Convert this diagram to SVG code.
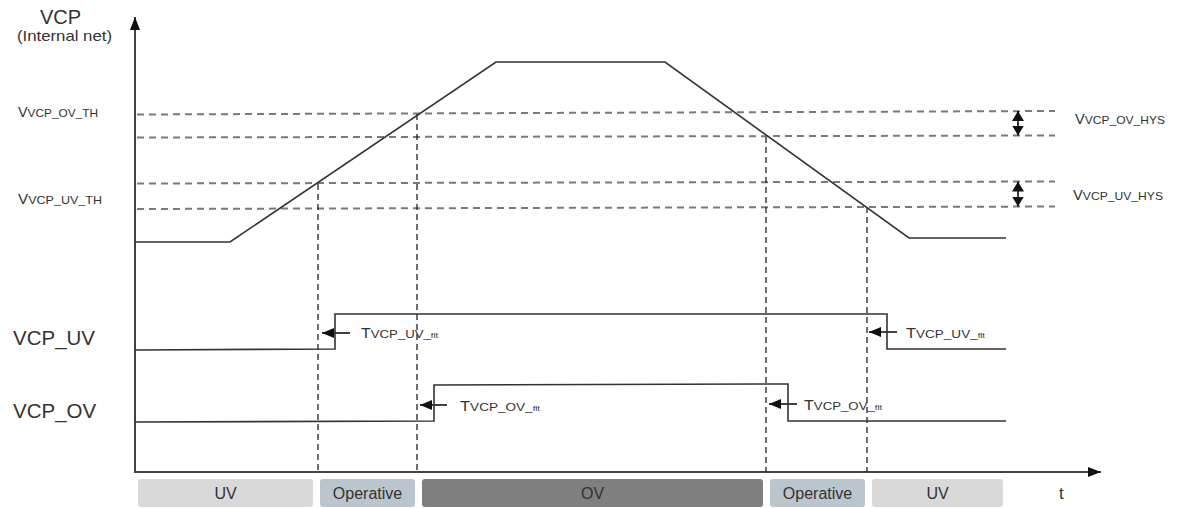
<svg xmlns="http://www.w3.org/2000/svg" width="1189" height="508" viewBox="0 0 1189 508">
<style>
  text { font-family: "Liberation Sans", Arial, sans-serif; fill: #333; }
  .big { font-size: 20.5px; }
  .lbl { font-size: 14px; }
  .sub { font-size: 11.5px; }
  .tiny { font-size: 8px; }
  .bar { font-size: 16px; text-anchor: middle; }
  .hd { stroke: #7a7a7a; stroke-width: 2; stroke-dasharray: 7 5; fill: none; }
  .vd { stroke: #222; stroke-width: 1.3; stroke-dasharray: 6 4; fill: none; }
  .wave { stroke: #333; stroke-width: 1.6; fill: none; }
  .axis { stroke: #444; stroke-width: 2; fill: none; }
  .arr { stroke: #111; stroke-width: 1.6; fill: none; }
</style>
<defs>
  <marker id="ah" viewBox="0 0 12 10" refX="12" refY="5" markerWidth="12" markerHeight="10" markerUnits="userSpaceOnUse" orient="auto">
    <path d="M0,0 L12,5 L0,10 z" fill="#111"/>
  </marker>
  <marker id="ah2" viewBox="0 0 10 12" refX="10" refY="6" markerWidth="10" markerHeight="12" markerUnits="userSpaceOnUse" orient="auto">
    <path d="M0,0 L10,6 L0,12 z" fill="#111"/>
  </marker>
  <marker id="axh" viewBox="0 0 13 10" refX="13" refY="5" markerWidth="13" markerHeight="10" markerUnits="userSpaceOnUse" orient="auto">
    <path d="M0,0 L13,5 L0,10 z" fill="#111"/>
  </marker>
</defs>

<g id="labels-left">
  <text x="40" y="24" font-size="20">VCP</text>
  <text x="17" y="41" font-size="15" textLength="95" lengthAdjust="spacingAndGlyphs">(Internal net)</text>
  <text x="18" y="117" class="lbl" textLength="80" lengthAdjust="spacingAndGlyphs">V<tspan class="sub">VCP_OV_TH</tspan></text>
  <text x="18" y="204" class="lbl" textLength="84" lengthAdjust="spacingAndGlyphs">V<tspan class="sub">VCP_UV_TH</tspan></text>
  <text x="13" y="345" class="big">VCP_UV</text>
  <text x="13" y="418" class="big">VCP_OV</text>
</g>

<g id="labels-right">
  <text x="1075" y="124" class="lbl" textLength="90" lengthAdjust="spacingAndGlyphs">V<tspan class="sub">VCP_OV_HYS</tspan></text>
  <text x="1073" y="200" class="lbl" textLength="90" lengthAdjust="spacingAndGlyphs">V<tspan class="sub">VCP_UV_HYS</tspan></text>
</g>

<g id="axes">
  <line class="axis" x1="135" y1="473" x2="135" y2="17" marker-end="url(#axh)"/>
  <line class="axis" x1="134" y1="472" x2="1101" y2="472" marker-end="url(#axh)"/>
  <text x="1059" y="499" font-size="17">t</text>
</g>

<g id="thresholds">
  <line class="hd" x1="137" y1="114.5" x2="1055" y2="111"/>
  <line class="hd" x1="137" y1="137.5" x2="1055" y2="135.5"/>
  <line class="hd" x1="137" y1="183.5" x2="1055" y2="181.5"/>
  <line class="hd" x1="137" y1="209" x2="1055" y2="206.5"/>
</g>

<g id="connectors">
  <line class="vd" x1="318" y1="184" x2="318" y2="472"/>
  <line class="vd" x1="417" y1="114" x2="417" y2="472"/>
  <line class="vd" x1="766" y1="137" x2="766" y2="472"/>
  <line class="vd" x1="867" y1="207" x2="867" y2="472"/>
  <line class="arr" x1="1018" y1="123.5" x2="1018" y2="111" marker-end="url(#ah2)"/>
  <line class="arr" x1="1018" y1="123" x2="1018" y2="135.5" marker-end="url(#ah2)"/>
  <line class="arr" x1="1018" y1="194" x2="1018" y2="181.5" marker-end="url(#ah2)"/>
  <line class="arr" x1="1018" y1="193.5" x2="1018" y2="206.5" marker-end="url(#ah2)"/>
  <line class="arr" x1="350" y1="333" x2="322" y2="333" marker-end="url(#ah)"/>
  <line class="arr" x1="447" y1="405" x2="420" y2="405" marker-end="url(#ah)"/>
  <line class="arr" x1="797" y1="404" x2="769" y2="404" marker-end="url(#ah)"/>
  <line class="arr" x1="897" y1="332" x2="869" y2="332" marker-end="url(#ah)"/>
</g>

<g id="vcp-wave">
  <polyline class="wave" points="135,242 230,242 496,62 665,62 909,238 1006,238"/>
</g>

<g id="vcp-uv">
  <polyline class="wave" points="135,350 335,349 335,314 887,314 887,349 1006,349"/>
  <text x="361" y="338" class="lbl" textLength="77" lengthAdjust="spacingAndGlyphs">T<tspan class="sub">VCP_UV_</tspan><tspan class="tiny">flt</tspan></text>
  <text x="906" y="338" class="lbl" textLength="79" lengthAdjust="spacingAndGlyphs">T<tspan class="sub">VCP_UV_</tspan><tspan class="tiny">flt</tspan></text>
</g>

<g id="vcp-ov">
  <polyline class="wave" points="135,422 434,421 434,385 788,384 788,421 1006,421"/>
  <text x="460" y="411" class="lbl" textLength="80" lengthAdjust="spacingAndGlyphs">T<tspan class="sub">VCP_OV_</tspan><tspan class="tiny">flt</tspan></text>
  <text x="804" y="410" class="lbl" textLength="78" lengthAdjust="spacingAndGlyphs">T<tspan class="sub">VCP_OV_</tspan><tspan class="tiny">flt</tspan></text>
</g>

<g id="state-uv1">
  <rect x="138" y="479" width="175" height="28" rx="3" fill="#d9d9d9"/>
  <text x="225.5" y="499" class="bar">UV</text>
</g>
<g id="state-op1">
  <rect x="320" y="479" width="95" height="28" rx="3" fill="#bac5cd"/>
  <text x="367.5" y="499" class="bar">Operative</text>
</g>
<g id="state-ov">
  <rect x="422" y="479" width="341" height="28" rx="3" fill="#7f7f7f"/>
  <text x="592.5" y="499" class="bar">OV</text>
</g>
<g id="state-op2">
  <rect x="770" y="479" width="95" height="28" rx="3" fill="#bac5cd"/>
  <text x="817.5" y="499" class="bar">Operative</text>
</g>
<g id="state-uv2">
  <rect x="872" y="479" width="131" height="28" rx="3" fill="#d9d9d9"/>
  <text x="937.5" y="499" class="bar">UV</text>
</g>
</svg>
